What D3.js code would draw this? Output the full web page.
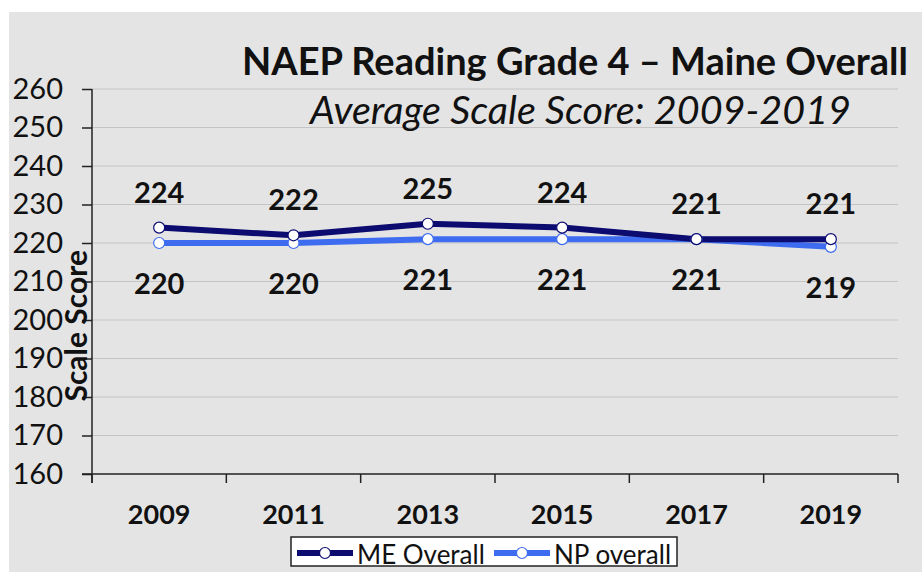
<!DOCTYPE html>
<html>
<head>
<meta charset="utf-8" />
<title>NAEP Reading Grade 4</title>
<style>
html, body {
    padding: 0px;
    margin: 0px;
    background: #fff;
}
svg text {
    font-family: Lato, "Open Sans", sans-serif;
    fill: #111;
}
.grid line {
    stroke: #c4c4c4;
    stroke-width: 1;
}
</style>
</head>
<body>
<div id="chart"></div>

<script src="https://cdn.jsdelivr.net/npm/d3@7"></script>
<script>
!(function(){
    "use strict"

    var years = ["2009", "2011", "2013", "2015", "2017", "2019"]
    var meOverall = [224, 222, 225, 224, 221, 221]
    var npOverall = [220, 220, 221, 221, 221, 219]
    var yTicks = [160, 170, 180, 190, 200, 210, 220, 230, 240, 250, 260]

    var width = 922, height = 572
    var margin = {left: 92, right: 24, top: 89, bottom: 98}

    var svg = d3.select("#chart").append("svg")
        .attr("width", width)
        .attr("height", height)

    // grey panel
    svg.append("rect")
        .attr("x", 9).attr("y", 12)
        .attr("width", width - 9).attr("height", height - 12)
        .attr("fill", "#e4e4e4")

    var x = d3.scaleBand()
        .domain(years)
        .range([margin.left, width - margin.right])

    var y = d3.scaleLinear()
        .domain([160, 260])
        .range([height - margin.bottom, margin.top])

    // gridlines
    svg.append("g").attr("class", "grid")
        .selectAll("line")
        .data(yTicks.slice(1))
        .enter().append("line")
        .attr("x1", margin.left).attr("x2", width - margin.right)
        .attr("y1", function(d){ return y(d) }).attr("y2", function(d){ return y(d) })

    // y axis
    var yAxis = svg.append("g")
        .attr("transform", "translate(" + margin.left + ",0)")
        .call(d3.axisLeft(y).tickValues(yTicks).tickSize(10).tickPadding(19))
    yAxis.select(".domain").attr("stroke", "#222").attr("stroke-width", 1.5)
        .attr("d", "M0," + y(260) + "V" + (y(160) + 9))
    yAxis.selectAll(".tick line").attr("stroke", "#222").attr("stroke-width", 1.5)
    yAxis.selectAll(".tick text")
        .style("font-size", "29px").style("font-family", "Lato, sans-serif").style("fill", "#111")

    // x axis
    var xAxis = svg.append("g")
        .attr("transform", "translate(0," + y(160) + ")")
        .call(d3.axisBottom(x).tickSize(0).tickPadding(31))
    xAxis.select(".domain").attr("stroke", "#222").attr("stroke-width", 1.5)
        .attr("d", "M" + (margin.left - 10) + ",0H" + (width - margin.right))
    xAxis.selectAll(".tick text")
        .style("font-size", "27px").style("font-weight", "bold")
        .style("font-family", "Lato, sans-serif").style("fill", "#111")

    // x ticks between categories
    var bounds = years.map(function(d){ return x(d) }).concat([x(years[5]) + x.bandwidth()])
    svg.append("g").selectAll("line")
        .data(bounds)
        .enter().append("line")
        .attr("x1", function(d){ return d }).attr("x2", function(d){ return d })
        .attr("y1", y(160)).attr("y2", y(160) + 9)
        .attr("stroke", "#222").attr("stroke-width", 1.5)

    // axis title
    svg.append("text")
        .attr("transform", "translate(87," + y(198.5) + ") rotate(-90)")
        .attr("text-anchor", "middle")
        .style("font-size", "30px").style("font-weight", "bold")
        .text("Scale Score")

    var cx = function(d, i){ return x(years[i]) + x.bandwidth() / 2 }

    var series = [
        {name: "ME Overall", values: meOverall, color: "#0b0b70", dy: -25},
        {name: "NP overall", values: npOverall, color: "#3e6cf0", dy: 51}
    ]

    var line = d3.line()
        .x(cx)
        .y(function(d){ return y(d) })

    // draw NP first so ME sits on top
    series.slice().reverse().forEach(function(s){
        svg.append("path")
            .datum(s.values)
            .attr("fill", "none")
            .attr("stroke", s.color)
            .attr("stroke-width", 6)
            .attr("stroke-linejoin", "round")
            .attr("d", line)
    })

    series.slice().reverse().forEach(function(s){
        svg.append("g").selectAll("circle")
            .data(s.values)
            .enter().append("circle")
            .attr("cx", cx)
            .attr("cy", function(d){ return y(d) })
            .attr("r", 5.5)
            .attr("fill", "#fff")
            .attr("stroke", s.color)
            .attr("stroke-width", 1.2)
    })

    // data labels
    series.forEach(function(s){
        svg.append("g").selectAll("text")
            .data(s.values)
            .enter().append("text")
            .attr("x", cx)
            .attr("y", function(d){ return y(d) + s.dy })
            .attr("text-anchor", "middle")
            .style("font-size", "29px").style("font-weight", "bold")
            .text(function(d){ return d })
    })

    // titles
    svg.append("text")
        .attr("x", 242).attr("y", 75)
        .style("font-size", "38px").style("font-weight", "bold")
        .text("NAEP Reading Grade 4 \u2013 Maine Overall")

    svg.append("text")
        .attr("x", 310).attr("y", 124)
        .style("font-size", "39.5px").style("font-style", "italic")
        .text("Average Scale Score: 2009-2019")

    // legend
    var lg = svg.append("g").attr("transform", "translate(291,537)")
    lg.append("rect")
        .attr("width", 386).attr("height", 29)
        .attr("fill", "#fff").attr("stroke", "#222").attr("stroke-width", 1.5)

    var items = lg.selectAll("g.item")
        .data(series)
        .enter().append("g")
        .attr("transform", function(d, i){ return "translate(" + (6 + i * 197) + ",0)" })
    items.append("line")
        .attr("x1", 0).attr("x2", 56)
        .attr("y1", 16).attr("y2", 16)
        .attr("stroke", function(d){ return d.color }).attr("stroke-width", 6)
    items.append("circle")
        .attr("cx", 28).attr("cy", 16).attr("r", 5.5)
        .attr("fill", "#fff")
        .attr("stroke", function(d){ return d.color }).attr("stroke-width", 1.2)
    items.append("text")
        .attr("x", 60).attr("y", 27)
        .style("font-size", "26px")
        .text(function(d){ return d.name })

}());
</script>
</body>
</html>
